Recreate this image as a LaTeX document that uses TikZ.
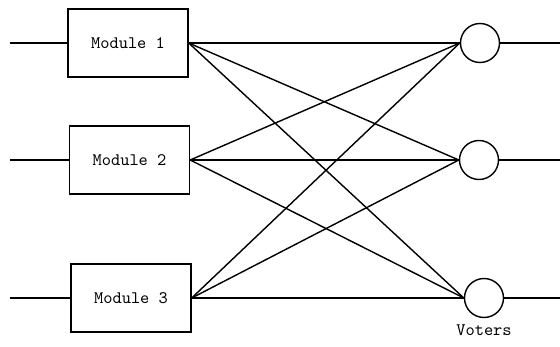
\documentclass[tikz,border=0pt]{standalone}
\usepackage{tikz}
\usetikzlibrary{positioning}

\begin{document}
\begin{tikzpicture}[
    line width=0.8pt,
    modbox/.style={draw, minimum width=2.4cm, minimum height=1.36cm, font=\ttfamily},
    voter/.style={draw, circle, minimum size=0.78cm, inner sep=0pt}
]
\useasboundingbox (0,0) rectangle (11.2,6.92);
\node[modbox] (m1) at (2.56,6.06) {Module 1};
\node[modbox] (m2) at (2.59,3.72) {Module 2};
\node[modbox] (m3) at (2.62,0.96) {Module 3};
\node[voter] (v1) at (9.60,6.06) {};
\node[voter] (v2) at (9.58,3.72) {};
\node[voter] (v3) at (9.68,0.96) {};
\node[below=0.08cm of v3, font=\ttfamily, inner sep=1pt] (lbl) {Voters};
% inputs and outputs
\foreach \i/\yy in {1/6.06,2/3.72,3/0.96} {
    \coordinate (in\i) at (0.2,\yy);
    \coordinate (out\i) at (11.2,\yy);
    \draw (in\i) -- (m\i.west);
    \draw (v\i.east) -- (out\i);
}
% every module feeds every voter
\foreach \i in {1,2,3}
    \foreach \j in {1,2,3}
        \draw (m\i.east) -- (v\j.west);
\end{tikzpicture}
\end{document}
